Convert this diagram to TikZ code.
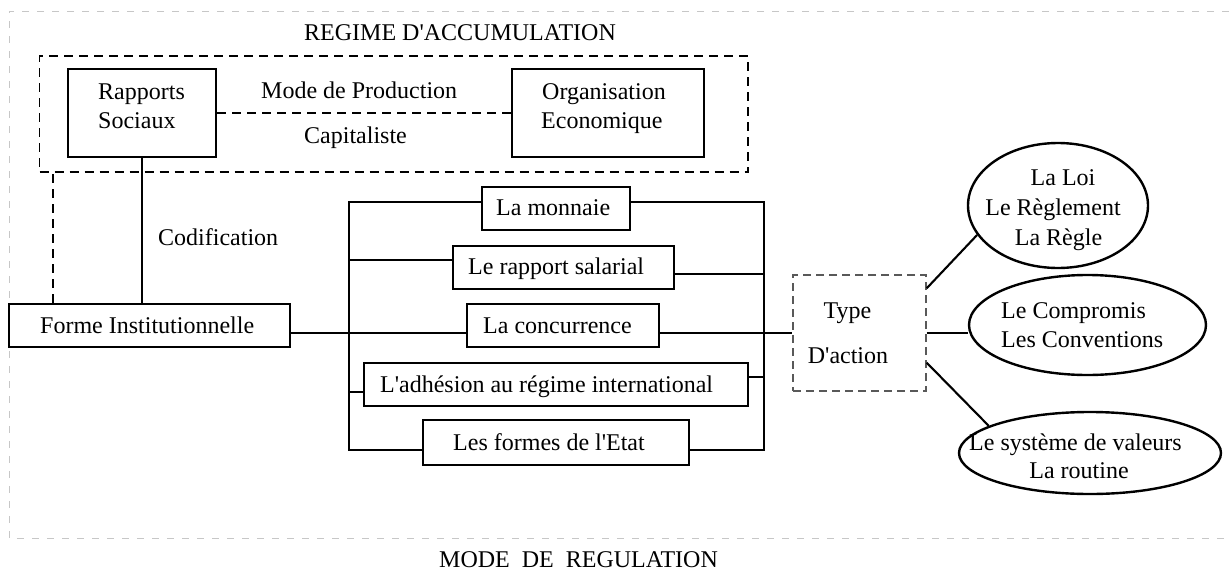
\documentclass[tikz,border=0pt]{standalone}
\usepackage{fontspec}
\setmainfont{Liberation Serif}[Ligatures=TeXOff]
\usetikzlibrary{shapes.geometric}
\begin{document}
\begin{tikzpicture}[x=1pt,y=-1pt,
  every node/.style={font=\fontsize{24}{30}\selectfont},
  box/.style={draw, rectangle, line width=2.4pt, inner sep=0pt},
  oval/.style={draw, ellipse, line width=2.4pt, inner sep=0pt},
  lbl/.style={anchor=base west, inner sep=0pt},
  clbl/.style={anchor=base, inner sep=0pt},
  link/.style={line width=2.1pt},
  frame/.style={draw=black!22, line width=1pt, dash pattern=on 7pt off 8pt},
  regbox/.style={draw, line width=1.3pt, dash pattern=on 9pt off 6pt},
  actbox/.style={draw=black!65, line width=1.3pt, dash pattern=on 8pt off 5pt}]
\useasboundingbox (0,0) rectangle (1229,570);

% outer frame of the regulation mode
\draw[frame] (1229,11) -| (9,538) -- (1229,538);
\node[lbl] (modereg) at (439,567) {MODE\ \ DE\ \ REGULATION};

% accumulation regime
\node[lbl] (regime) at (304,40) {REGIME D'ACCUMULATION};
\node[regbox, minimum width=708.5pt, minimum height=116pt] (acc) at (393.75,114) {};
\node[box, minimum width=148pt, minimum height=88pt] (rs) at (142,113) {};
\node[lbl] (rs1) at (98,99) {Rapports};
\node[lbl] (rs2) at (98,128) {Sociaux};
\node[box, minimum width=192pt, minimum height=88pt] (oe) at (608,113) {};
\node[lbl] (oe1) at (542,99) {Organisation};
\node[lbl] (oe2) at (541,128) {Economique};
\draw[regbox] (rs.east) -- (oe.west);
\node[lbl] (mp) at (261,98) {Mode de Production};
\node[lbl] (cap) at (304,143) {Capitaliste};

% institutional form
\node[box, minimum width=281pt, minimum height=43pt] (fi) at (149.5,325.5) {};
\node[lbl] (fit) at (40,333) {Forme Institutionnelle};
\draw[link] (rs.south) -- (rs.south |- fi.north);
\node[lbl] (cod) at (158,245) {Codification};
\coordinate (dl) at (53,0);
\draw[regbox] (fi.north -| dl) -- (acc.south -| dl);

% the five institutional forms
\node[box, minimum width=148pt, minimum height=43pt] (monnaie) at (556,208.5) {};
\node[lbl] (tmonnaie) at (496,215) {La monnaie};
\node[box, minimum width=221pt, minimum height=43pt] (salarial) at (563.5,267.5) {};
\node[lbl] (tsalarial) at (468,274) {Le rapport salarial};
\node[box, minimum width=192pt, minimum height=43pt] (concur) at (563,325.5) {};
\node[lbl] (tconcur) at (483,333) {La concurrence};
\node[box, minimum width=384pt, minimum height=43pt] (adhesion) at (556,384.5) {};
\node[lbl] (tadhesion) at (380,392) {L'adhésion au régime international};
\node[box, minimum width=266pt, minimum height=45pt] (formes) at (556,442.5) {};
\node[lbl] (tformes) at (453,450) {Les formes de l'Etat};

% left and right buses
\coordinate (bl1) at (349,202);
\coordinate (bl2) at (349,260);
\coordinate (bl3) at (349,333);
\coordinate (bl4) at (349,392);
\coordinate (bl5) at (349,450);
\coordinate (br1) at (764,202);
\coordinate (br2) at (764,274);
\coordinate (br3) at (764,333);
\coordinate (br4) at (764,377);
\coordinate (br5) at (764,450);

\draw[link] (monnaie.west |- bl1) -- (bl1) -- (bl5) -- (formes.west |- bl5);
\draw[link] (bl2) -- (salarial.west |- bl2);
\draw[link] (fi.east |- bl3) -- (concur.west |- bl3);
\draw[link] (bl4) -- (adhesion.west |- bl4);
\draw[link] (monnaie.east |- br1) -- (br1) -- (br5) -- (formes.east |- br5);
\draw[link] (salarial.east |- br2) -- (br2);
\draw[link] (adhesion.east |- br4) -- (br4);

% type of action
\node[actbox, minimum width=133pt, minimum height=116pt] (type) at (859.5,333) {};
\node[clbl] (ttype1) at (847.5,318) {Type};
\node[clbl] (ttype2) at (848,363) {D'action};
\draw[link] (concur.east |- br3) -- (type.west |- br3);

% the three kinds of action
\node[oval, minimum width=180pt, minimum height=125pt] (loi) at (1058,205.5) {};
\node[clbl] (loi1) at (1063,185) {La Loi};
\node[clbl] (loi2) at (1053,215) {Le Règlement};
\node[clbl] (loi3) at (1058.5,245) {La Règle};
\node[oval, minimum width=237pt, minimum height=100pt] (comp) at (1087.5,325) {};
\node[lbl] (comp1) at (1001,318) {Le Compromis};
\node[lbl] (comp2) at (1001,347) {Les Conventions};
\node[oval, minimum width=262pt, minimum height=82pt] (sys) at (1090,453) {};
\node[lbl] (sys1) at (969,450) {Le système de valeurs};
\node[clbl] (sys2) at (1079,478) {La routine};

\draw[link] ([yshift=-14pt]type.north east) -- (loi.200);
\draw[link] (type.east |- br3) -- (comp.west |- br3);
\draw[link] ([yshift=29pt]type.south east) -- (sys.165);
\end{tikzpicture}
\end{document}
